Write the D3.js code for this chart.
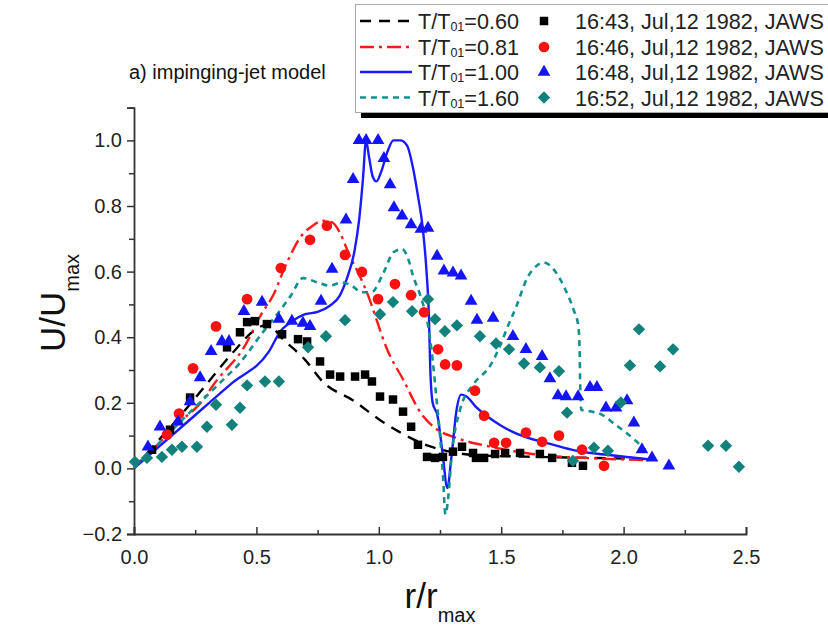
<!DOCTYPE html>
<html><head><meta charset="utf-8">
<script src="https://cdn.jsdelivr.net/npm/d3@7"></script>
<style>
html,body{margin:0;padding:0;background:#fff;}
svg{display:block;font-family:"Liberation Sans",Arial,Helvetica,sans-serif;}
</style></head>
<body>
<svg id="chart" width="828" height="630"></svg>
<script>
// ---------- DATA ----------
const xTickValues = [0, 0.5, 1.0, 1.5, 2.0, 2.5];
const xMinorTicks = [0.25, 0.75, 1.25, 1.75, 2.25];
const yTickValues = [-0.2, 0.0, 0.2, 0.4, 0.6, 0.8, 1.0];
const yMinorTicks = [-0.1, 0.1, 0.3, 0.5, 0.7, 0.9, 1.1];

const modelLabels = ["0.60", "0.81", "1.00", "1.60"];
const jawsLabels = ["16:43, Jul,12 1982, JAWS", "16:46, Jul,12 1982, JAWS", "16:48, Jul,12 1982, JAWS", "16:52, Jul,12 1982, JAWS"];

// model curves
const m060x = [0, 0.1, 0.2, 0.3, 0.4, 0.5, 0.55, 0.6, 0.7, 0.77, 0.9, 1.0, 1.08, 1.16, 1.21, 1.3, 1.4, 1.6, 1.8, 2.0, 2.1];
const m060y = [0, 0.085, 0.17, 0.26, 0.35, 0.425, 0.44, 0.40, 0.33, 0.265, 0.205, 0.15, 0.113, 0.082, 0.067, 0.05, 0.04, 0.036, 0.033, 0.03, 0.028];

const m081x = [0, 0.1, 0.2, 0.26, 0.34, 0.45, 0.52, 0.57, 0.62, 0.685, 0.73, 0.77, 0.81, 0.84, 0.88, 0.92, 0.96, 0.99, 1.03, 1.10, 1.175, 1.23, 1.32, 1.45, 1.6, 1.74, 1.9, 2.1];
const m081y = [0, 0.075, 0.15, 0.19, 0.27, 0.37, 0.47, 0.53, 0.62, 0.71, 0.74, 0.755, 0.75, 0.72, 0.65, 0.59, 0.52, 0.455, 0.37, 0.27, 0.165, 0.123, 0.092, 0.067, 0.047, 0.036, 0.03, 0.025];

const m100x = [0, 0.2, 0.4, 0.55, 0.6, 0.63, 0.67, 0.7, 0.75, 0.8, 0.84, 0.87, 0.9, 0.92, 0.935, 0.948, 0.96, 0.975, 0.99, 1.01, 1.035, 1.06, 1.087, 1.115, 1.14, 1.16, 1.18, 1.195, 1.205, 1.21, 1.22, 1.24, 1.26, 1.28, 1.296, 1.318, 1.336, 1.357, 1.4, 1.5, 1.6, 1.7, 1.8, 1.95, 2.1];
const m100y = [0, 0.13, 0.26, 0.355, 0.42, 0.44, 0.46, 0.47, 0.477, 0.496, 0.526, 0.58, 0.66, 0.76, 0.88, 1.0, 0.95, 0.89, 0.875, 0.905, 0.965, 1.0, 1.0, 0.985, 0.915, 0.83, 0.73, 0.6, 0.46, 0.31, 0.2, 0.16, 0.05, -0.06, 0.03, 0.18, 0.225, 0.22, 0.185, 0.13, 0.095, 0.075, 0.055, 0.04, 0.028];

const m160x = [0, 0.2, 0.35, 0.433, 0.52, 0.6, 0.64, 0.69, 0.75, 0.8, 0.85, 0.89, 0.93, 0.97, 1.02, 1.06, 1.095, 1.12, 1.14, 1.17, 1.2, 1.215, 1.236, 1.25, 1.262, 1.272, 1.284, 1.296, 1.332, 1.386, 1.454, 1.495, 1.522, 1.563, 1.604, 1.645, 1.672, 1.70, 1.733, 1.761, 1.795, 1.815, 1.82, 1.823, 1.827, 1.863, 1.911, 1.958, 2.012, 2.053, 2.088];
const m160y = [0, 0.15, 0.26, 0.322, 0.409, 0.485, 0.526, 0.58, 0.567, 0.557, 0.567, 0.557, 0.537, 0.537, 0.598, 0.659, 0.669, 0.639, 0.587, 0.526, 0.44, 0.363, 0.21, 0.10, -0.02, -0.14, -0.086, 0.026, 0.179, 0.256, 0.312, 0.373, 0.424, 0.496, 0.577, 0.618, 0.628, 0.618, 0.587, 0.547, 0.485, 0.434, 0.37, 0.25, 0.179, 0.174, 0.164, 0.138, 0.108, 0.082, 0.057];

// JAWS observations
const j1643x = [0.074, 0.147, 0.229, 0.380, 0.433, 0.462, 0.494, 0.543, 0.605, 0.670, 0.707, 0.760, 0.801, 0.842, 0.903, 0.944, 0.972, 1.005, 1.058, 1.099, 1.132, 1.160, 1.197, 1.230, 1.262, 1.303, 1.340, 1.385, 1.397, 1.430, 1.475, 1.516, 1.577, 1.658, 1.708, 1.789, 1.834];
const j1643y = [0.057, 0.118, 0.216, 0.369, 0.415, 0.446, 0.449, 0.440, 0.409, 0.394, 0.387, 0.326, 0.286, 0.280, 0.280, 0.286, 0.265, 0.219, 0.210, 0.173, 0.127, 0.072, 0.035, 0.032, 0.035, 0.051, 0.066, 0.047, 0.032, 0.032, 0.044, 0.047, 0.047, 0.044, 0.032, 0.017, 0.008];

const j1646x = [0.135, 0.184, 0.241, 0.335, 0.462, 0.600, 0.719, 0.788, 0.862, 0.931, 0.997, 1.066, 1.132, 1.185, 1.242, 1.271, 1.319, 1.393, 1.430, 1.471, 1.520, 1.601, 1.667, 1.736, 1.830, 1.920];
const j1646y = [0.103, 0.167, 0.305, 0.433, 0.516, 0.611, 0.697, 0.740, 0.651, 0.599, 0.516, 0.562, 0.528, 0.476, 0.363, 0.317, 0.314, 0.237, 0.161, 0.078, 0.078, 0.109, 0.081, 0.100, 0.057, 0.008];

const j1648x = [0.057, 0.106, 0.180, 0.229, 0.270, 0.315, 0.359, 0.388, 0.449, 0.523, 0.592, 0.645, 0.690, 0.719, 0.764, 0.809, 0.866, 0.895, 0.919, 0.948, 0.997, 1.021, 1.046, 1.062, 1.095, 1.132, 1.172, 1.201, 1.238, 1.266, 1.303, 1.336, 1.377, 1.401, 1.467, 1.548, 1.601, 1.667, 1.699, 1.732, 1.765, 1.814, 1.863, 1.891, 1.928, 1.969, 2.014, 2.042, 2.075, 2.116, 2.185];
const j1648y = [0.066, 0.127, 0.142, 0.204, 0.277, 0.357, 0.387, 0.387, 0.479, 0.507, 0.455, 0.449, 0.443, 0.433, 0.510, 0.608, 0.758, 0.881, 1.0, 1.0, 1.0, 0.945, 0.865, 0.795, 0.770, 0.743, 0.730, 0.733, 0.647, 0.602, 0.596, 0.587, 0.510, 0.452, 0.458, 0.403, 0.363, 0.342, 0.274, 0.222, 0.219, 0.219, 0.247, 0.247, 0.185, 0.185, 0.207, 0.139, 0.057, 0.032, 0.008];

const j1652x = [0.004, 0.053, 0.114, 0.155, 0.196, 0.257, 0.298, 0.335, 0.400, 0.433, 0.462, 0.535, 0.592, 0.711, 0.784, 0.862, 1.005, 1.058, 1.136, 1.201, 1.230, 1.270, 1.319, 1.413, 1.479, 1.532, 1.593, 1.658, 1.736, 1.769, 1.793, 1.879, 1.936, 1.989, 2.026, 2.063, 2.149, 2.202, 2.345, 2.418, 2.471];
const j1652y = [0.020, 0.032, 0.035, 0.057, 0.066, 0.066, 0.127, 0.194, 0.133, 0.185, 0.253, 0.265, 0.265, 0.369, 0.403, 0.452, 0.470, 0.507, 0.479, 0.516, 0.455, 0.418, 0.436, 0.403, 0.381, 0.363, 0.320, 0.308, 0.296, 0.170, 0.023, 0.063, 0.054, 0.201, 0.314, 0.424, 0.311, 0.363, 0.069, 0.069, 0.005];

// ---------- DRAW ----------
const svg = d3.select("#chart");
const x = d3.scaleLinear().domain([0, 2.5]).range([134, 746]);
const y = d3.scaleLinear().domain([-0.2, 1.1]).range([534, 107.6]);
const axisColor = "#333";
const font = '"Liberation Sans",Arial,Helvetica,sans-serif';

// axes
const gx = svg.append("g").attr("transform", `translate(0,${y(-0.2)})`);
gx.call(d3.axisBottom(x).tickValues(xTickValues).tickSize(-7).tickPadding(16).tickFormat(d3.format(".1f")));
const gxm = svg.append("g").attr("transform", `translate(0,${y(-0.2)})`);
gxm.call(d3.axisBottom(x).tickValues(xMinorTicks).tickSize(-4).tickFormat(""));
const gy = svg.append("g").attr("transform", `translate(${x(0)},0)`);
gy.call(d3.axisLeft(y).tickValues(yTickValues).tickSize(7).tickPadding(5).tickFormat(d3.format(".1f")));
const gym = svg.append("g").attr("transform", `translate(${x(0)},0)`);
gym.call(d3.axisLeft(y).tickValues(yMinorTicks).tickSize(5).tickFormat(""));
[gx, gxm, gy, gym].forEach(g => {
  g.select(".domain").attr("stroke", axisColor).attr("stroke-width", 1.8);
  g.selectAll(".tick line").attr("stroke", axisColor).attr("stroke-width", 1.5);
  g.selectAll(".tick text").attr("font-size", 20).attr("font-family", font).attr("fill", "#222");
});
gxm.select(".domain").remove();
gym.select(".domain").remove();

// title
svg.append("text").attr("x", 129).attr("y", 79).attr("font-size", 20).attr("fill", "#111").text("a) impinging-jet model");

// axis labels
const xl = svg.append("text").attr("x", 440).attr("y", 608).attr("text-anchor", "middle").attr("font-size", 35).attr("fill", "#111");
xl.append("tspan").text("r/r");
xl.append("tspan").attr("dy", 14).attr("font-size", 20).text("max");

const yl = svg.append("text").attr("transform", "translate(65,303) rotate(-90)").attr("text-anchor", "middle").attr("font-size", 35).attr("fill", "#111");
yl.append("tspan").text("U/U");
yl.append("tspan").attr("dy", 14).attr("font-size", 20).text("max");

// lines
const series = [
  {xs: m060x, ys: m060y, color: "#000000", dash: "11,8", width: 2.4},
  {xs: m081x, ys: m081y, color: "#ff1a1a", dash: "14,5,3,5", width: 2.4},
  {xs: m100x, ys: m100y, color: "#1a1aff", dash: null, width: 2.4},
  {xs: m160x, ys: m160y, color: "#13908c", dash: "6,5", width: 2.6}
];
const line = d3.line().x(d => x(d[0])).y(d => y(d[1])).curve(d3.curveMonotoneX);
series.forEach(s => {
  const pts = s.xs.map((v, i) => [v, s.ys[i]]);
  svg.append("path").datum(pts).attr("d", line).attr("fill", "none")
    .attr("stroke", s.color).attr("stroke-width", s.width)
    .attr("stroke-dasharray", s.dash).attr("stroke-linejoin", "round");
});

// markers
const markerDefs = [
  {xs: j1643x, ys: j1643y, type: d3.symbolSquare, size: 72, color: "#000000"},
  {xs: j1646x, ys: j1646y, type: d3.symbolCircle, size: 90, color: "#ff1010"},
  {xs: j1648x, ys: j1648y, type: d3.symbolTriangle, size: 70, color: "#1414f5"},
  {xs: j1652x, ys: j1652y, type: d3.symbolDiamond, size: 80, color: "#12807b"}
];
function symPath(m) {
  if (m.type === d3.symbolDiamond) {
    return "M0,-6.2L6.2,0L0,6.2L-6.2,0Z";
  }
  return d3.symbol().type(m.type).size(m.size)();
}
markerDefs.forEach(m => {
  svg.append("g").selectAll("path").data(m.xs.map((v, i) => [v, m.ys[i]])).join("path")
    .attr("d", symPath(m))
    .attr("transform", d => `translate(${x(d[0])},${y(d[1])})`)
    .attr("fill", m.color);
});

// legend
const lg = svg.append("g");
lg.append("rect").attr("x", 361).attr("y", 112).attr("width", 480).attr("height", 6).attr("fill", "#000");
lg.append("rect").attr("x", 355.5).attr("y", 4.5).attr("width", 480).attr("height", 108).attr("fill", "#fff").attr("stroke", "#aaa").attr("stroke-width", 1);
const rowY = [21, 47, 72, 97.5];
series.forEach((s, i) => {
  const yy = rowY[i];
  lg.append("line").attr("x1", 360).attr("x2", 412).attr("y1", yy).attr("y2", yy)
    .attr("stroke", s.color).attr("stroke-width", 2.6).attr("stroke-dasharray", s.dash);
  const t = lg.append("text").attr("x", 418).attr("y", yy + 8).attr("font-size", 21.6).attr("fill", "#222");
  t.append("tspan").text("T/T");
  t.append("tspan").attr("font-size", 12.5).attr("dy", 2).text("01");
  t.append("tspan").attr("dy", -2).text("=" + modelLabels[i]);
  const m = markerDefs[i];
  lg.append("path").attr("d", symPath(m)).attr("transform", `translate(544,${yy})`).attr("fill", m.color);
  lg.append("text").attr("x", 575).attr("y", yy + 8).attr("font-size", 21.6).attr("fill", "#222").text(jawsLabels[i]);
});
</script>
</body></html>
